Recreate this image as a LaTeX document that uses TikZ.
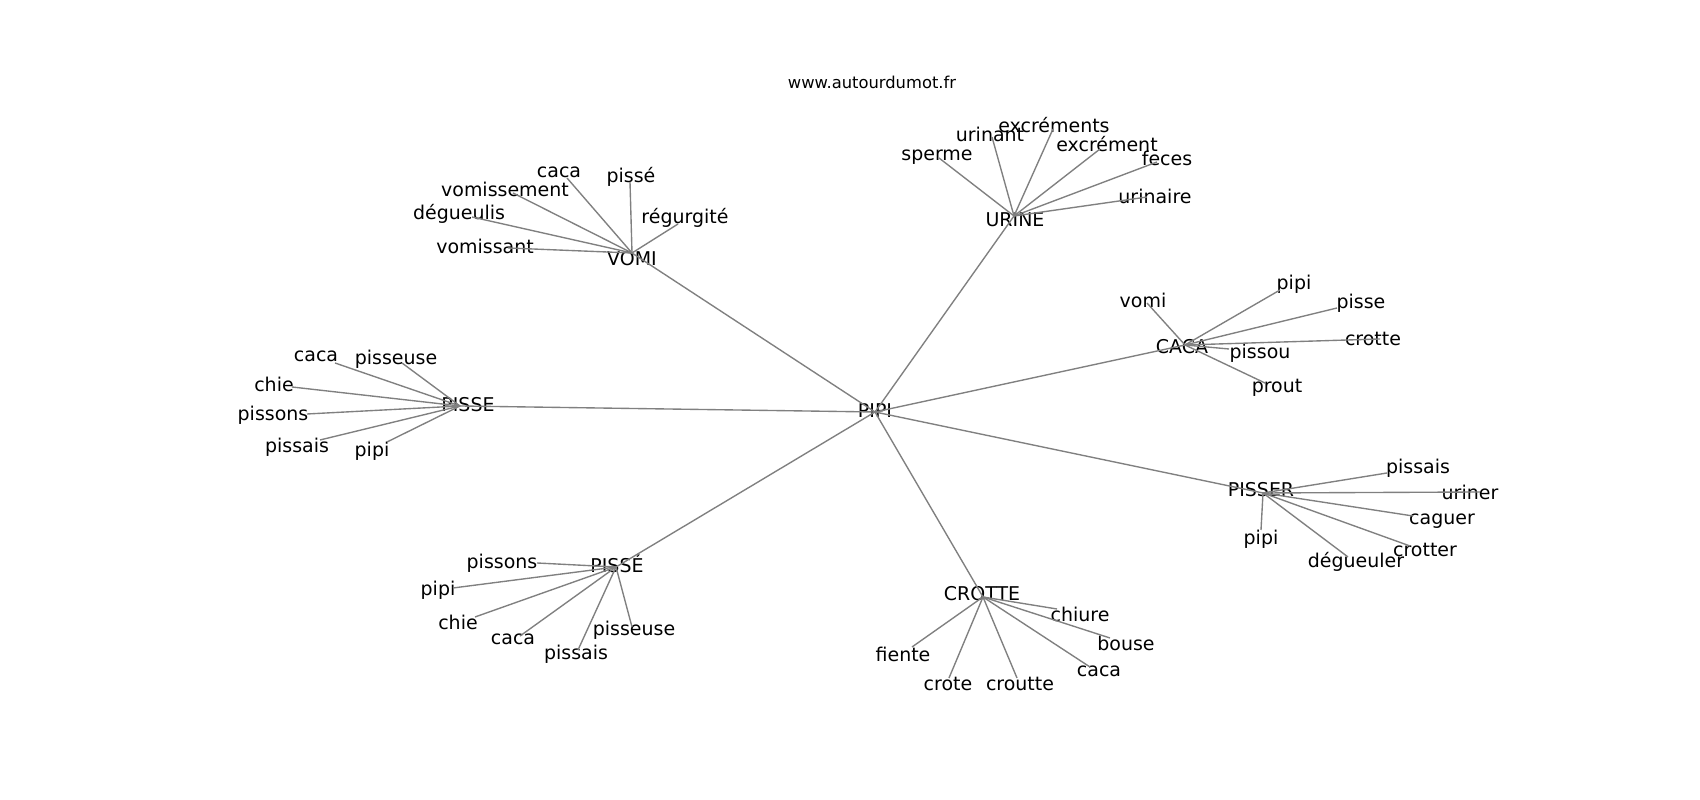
\documentclass[tikz,border=0pt]{standalone}
\usepackage{fontspec}
\setmainfont{DejaVu Sans}
\usepackage{tikz}
\usetikzlibrary{positioning}

\tikzset{
	word/.style={inner sep=0pt, font=\fontsize{5.4}{6.5}\selectfont},
	site/.style={inner sep=0pt, font=\fontsize{4.65}{5.6}\selectfont},
	link/.style={draw=gray, line width=0.39pt}
}

\begin{document}
\begin{tikzpicture}
	\path[fill=white] (0,0) rectangle (17,8);
	\node[site] (site) at (8.72,7.18) {www.autourdumot.fr};
	% hubs
	\node[word] (pipi) at (8.75,3.89) {PIPI};
	\node[word] (vomi) at (6.32,5.41) {VOMI};
	\node[word] (urine) at (10.15,5.80) {URINE};
	\node[word] (caca) at (11.82,4.53) {CACA};
	\node[word] (pisse) at (4.68,3.95) {PISSE};
	\node[word] (pisser) at (12.61,3.10) {PISSER};
	\node[word] (pisseE) at (6.17,2.36) {PISSÉ};
	\node[word] (crotte) at (9.82,2.06) {CROTTE};
	\coordinate (pipiP) at (8.75,3.88);
	\coordinate (vomiP) at (6.32,5.47);
	\coordinate (urineP) at (10.14,5.84);
	\coordinate (cacaP) at (11.85,4.55);
	\coordinate (pisseP) at (4.60,3.94);
	\coordinate (pisserP) at (12.63,3.07);
	\coordinate (pisseEP) at (6.16,2.33);
	\coordinate (crotteP) at (9.83,2.03);
	% leaves of VOMI
	\node[word] (vomi1) at (5.59,6.28) {caca};
	\node[word] (vomi2) at (6.31,6.23) {pissé};
	\node[word] (vomi3) at (5.05,6.11) {vomissement};
	\node[word] (vomi4) at (4.59,5.86) {dégueulis};
	\node[word] (vomi5) at (6.85,5.82) {régurgité};
	\node[word] (vomi6) at (4.85,5.54) {vomissant};
	\coordinate (vomi1P) at (5.67,6.22);
	\coordinate (vomi2P) at (6.30,6.18);
	\coordinate (vomi3P) at (5.13,6.07);
	\coordinate (vomi4P) at (4.72,5.83);
	\coordinate (vomi5P) at (6.78,5.76);
	\coordinate (vomi6P) at (5.08,5.52);
	% leaves of URINE
	\node[word] (urine1) at (9.37,6.43) {sperme};
	\node[word] (urine2) at (9.90,6.66) {urinant};
	\node[word] (urine3) at (10.54,6.75) {excréments};
	\node[word] (urine4) at (11.07,6.56) {excrément};
	\node[word] (urine5) at (11.67,6.42) {feces};
	\node[word] (urine6) at (11.55,6.04) {urinaire};
	\coordinate (urine1P) at (9.39,6.42);
	\coordinate (urine2P) at (9.92,6.63);
	\coordinate (urine3P) at (10.53,6.71);
	\coordinate (urine4P) at (11.00,6.51);
	\coordinate (urine5P) at (11.57,6.38);
	\coordinate (urine6P) at (11.47,6.03);
	% leaves of CACA
	\node[word] (caca1) at (11.43,5.00) {vomi};
	\node[word] (caca2) at (12.94,5.16) {pipi};
	\node[word] (caca3) at (13.61,4.97) {pisse};
	\node[word] (caca4) at (13.73,4.61) {crotte};
	\node[word] (caca5) at (12.60,4.47) {pissou};
	\node[word] (caca6) at (12.77,4.12) {prout};
	\coordinate (caca1P) at (11.47,4.97);
	\coordinate (caca2P) at (12.80,5.10);
	\coordinate (caca3P) at (13.37,4.92);
	\coordinate (caca4P) at (13.80,4.61);
	\coordinate (caca5P) at (12.29,4.51);
	\coordinate (caca6P) at (12.65,4.17);
	% leaves of PISSER
	\node[word] (pisser1) at (14.18,3.32) {pissais};
	\node[word] (pisser2) at (14.70,3.08) {uriner};
	\node[word] (pisser3) at (14.42,2.79) {caguer};
	\node[word] (pisser4) at (14.25,2.50) {crotter};
	\node[word] (pisser5) at (13.56,2.38) {dégueuler};
	\node[word] (pisser6) at (12.61,2.61) {pipi};
	\coordinate (pisser1P) at (13.87,3.27);
	\coordinate (pisser2P) at (14.80,3.08);
	\coordinate (pisser3P) at (14.13,2.84);
	\coordinate (pisser4P) at (14.10,2.54);
	\coordinate (pisser5P) at (13.48,2.43);
	\coordinate (pisser6P) at (12.61,2.70);
	% leaves of PISSE
	\node[word] (pisse1) at (3.16,4.44) {caca};
	\node[word] (pisse2) at (3.96,4.41) {pisseuse};
	\node[word] (pisse3) at (2.74,4.16) {chie};
	\node[word] (pisse4) at (2.73,3.85) {pissons};
	\node[word] (pisse5) at (2.97,3.53) {pissais};
	\node[word] (pisse6) at (3.72,3.49) {pipi};
	\coordinate (pisse1P) at (3.35,4.37);
	\coordinate (pisse2P) at (4.02,4.37);
	\coordinate (pisse3P) at (2.92,4.13);
	\coordinate (pisse4P) at (3.07,3.86);
	\coordinate (pisse5P) at (3.20,3.60);
	\coordinate (pisse6P) at (3.87,3.58);
	% leaves of PISSÉ
	\node[word] (pisseE1) at (5.02,2.37) {pissons};
	\node[word] (pisseE2) at (4.38,2.10) {pipi};
	\node[word] (pisseE3) at (4.58,1.78) {chie};
	\node[word] (pisseE4) at (5.13,1.61) {caca};
	\node[word] (pisseE5) at (5.76,1.46) {pissais};
	\node[word] (pisseE6) at (6.34,1.70) {pisseuse};
	\coordinate (pisseE1P) at (5.37,2.37);
	\coordinate (pisseE2P) at (4.53,2.12);
	\coordinate (pisseE3P) at (4.75,1.83);
	\coordinate (pisseE4P) at (5.20,1.64);
	\coordinate (pisseE5P) at (5.78,1.50);
	\coordinate (pisseE6P) at (6.32,1.73);
	% leaves of CROTTE
	\node[word] (crotte1) at (10.80,1.86) {chiure};
	\node[word] (crotte2) at (11.26,1.57) {bouse};
	\node[word] (crotte3) at (10.99,1.29) {caca};
	\node[word] (crotte4) at (10.20,1.16) {croutte};
	\node[word] (crotte5) at (9.48,1.16) {crote};
	\node[word] (crotte6) at (9.03,1.46) {fiente};
	\coordinate (crotte1P) at (10.57,1.91);
	\coordinate (crotte2P) at (11.10,1.62);
	\coordinate (crotte3P) at (10.90,1.33);
	\coordinate (crotte4P) at (10.17,1.22);
	\coordinate (crotte5P) at (9.49,1.22);
	\coordinate (crotte6P) at (9.12,1.53);
	% links
	\foreach \h in {vomi,urine,caca,pisse,pisser,pisseE,crotte}{
		\draw[link] (pipiP) -- (\h P);
		\foreach \i in {1,...,6}
			\draw[link] (\h P) -- (\h\i P);
	}
\end{tikzpicture}
\end{document}
